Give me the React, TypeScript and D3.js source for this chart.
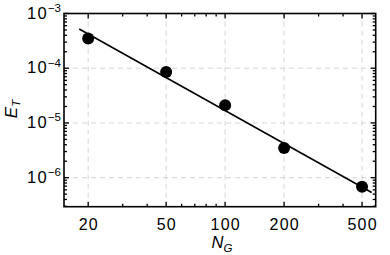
import * as d3 from "d3";
import { useEffect, useRef } from "react";

const nValues = [20, 50, 100, 200, 500];
const errValues = [3.5e-4, 8.5e-5, 2.1e-5, 3.5e-6, 6.8e-7];
const fitN = [18, 560];
const fitErr = [5.2e-4, 5.35e-7];
const xMajor = [20, 50, 100, 200, 500];
const xMinor = [30, 40, 60, 70, 80, 90, 300, 400];
const yMajor = [1e-3, 1e-4, 1e-5, 1e-6];
const yExp = ["−3", "−4", "−5", "−6"];

export default function App() {
  const svgRef = useRef<SVGSVGElement | null>(null);

  useEffect(() => {
    if (!svgRef.current) return;
    const width = 390;
    const height = 255;
    const m = { top: 13.5, right: 14.3, bottom: 48.3, left: 64 };
    const svg = d3.select(svgRef.current);
    svg.selectAll("*").remove();
    svg.attr("width", width).attr("height", height);

    const x = d3.scaleLog().domain([15.05, 587]).range([m.left, width - m.right]);
    const y = d3.scaleLog().domain([2.95e-7, 1e-3]).range([height - m.bottom, m.top]);

    const font = "'Liberation Sans', Arial, sans-serif";
    const x0 = m.left, x1 = width - m.right, y0 = height - m.bottom, y1 = m.top;

    // grid
    const grid = svg.append("g").attr("stroke", "#d0d0d0").attr("stroke-width", 0.9).attr("stroke-dasharray", "5,4");
    grid.selectAll(".gx").data(xMajor).join("line")
      .attr("x1", (d) => x(d)).attr("x2", (d) => x(d)).attr("y1", y0).attr("y2", y1);
    grid.selectAll(".gy").data(yMajor.slice(1)).join("line")
      .attr("y1", (d) => y(d)).attr("y2", (d) => y(d)).attr("x1", x0).attr("x2", x1);

    // y minor
    const yMinor: number[] = [];
    [1e-7, 1e-6, 1e-5, 1e-4].forEach((dec) => {
      for (let k = 2; k <= 9; k++) {
        const v = dec * k;
        if (v > 2.95e-7 && v < 1e-3) yMinor.push(v);
      }
    });

    const ticks = svg.append("g").attr("stroke", "#000").attr("stroke-width", 1.3);
    const majLen = 5, minLen = 3;
    xMajor.forEach((d) => {
      ticks.append("line").attr("x1", x(d)).attr("x2", x(d)).attr("y1", y0).attr("y2", y0 - majLen);
      ticks.append("line").attr("x1", x(d)).attr("x2", x(d)).attr("y1", y1).attr("y2", y1 + majLen);
    });
    xMinor.forEach((d) => {
      ticks.append("line").attr("x1", x(d)).attr("x2", x(d)).attr("y1", y0).attr("y2", y0 - minLen);
      ticks.append("line").attr("x1", x(d)).attr("x2", x(d)).attr("y1", y1).attr("y2", y1 + minLen);
    });
    yMajor.forEach((d) => {
      ticks.append("line").attr("y1", y(d)).attr("y2", y(d)).attr("x1", x0).attr("x2", x0 + majLen);
      ticks.append("line").attr("y1", y(d)).attr("y2", y(d)).attr("x1", x1).attr("x2", x1 - majLen);
    });
    yMinor.forEach((d) => {
      ticks.append("line").attr("y1", y(d)).attr("y2", y(d)).attr("x1", x0).attr("x2", x0 + minLen);
      ticks.append("line").attr("y1", y(d)).attr("y2", y(d)).attr("x1", x1).attr("x2", x1 - minLen);
    });

    // fit line
    const line = d3.line<number>().x((d) => x(fitN[d])).y((d) => y(fitErr[d]));
    svg.append("path").datum([0, 1]).attr("d", line).attr("fill", "none")
      .attr("stroke", "#000").attr("stroke-width", 1.6);

    // points
    svg.selectAll(".pt").data(nValues).join("circle")
      .attr("cx", (d) => x(d)).attr("cy", (d, i) => y(errValues[i]))
      .attr("r", 6).attr("fill", "#000");

    // frame
    svg.append("rect").attr("x", x0).attr("y", y1).attr("width", x1 - x0).attr("height", y0 - y1)
      .attr("fill", "none").attr("stroke", "#000").attr("stroke-width", 1.6);

    // x labels (slightly wide lettering like the original)
    svg.selectAll(".xl").data(xMajor).join("text")
      .attr("x", (d) => x(d) + 0.6).attr("y", 230).attr("text-anchor", "middle")
      .attr("font-family", font).attr("font-size", 16).attr("letter-spacing", 1.2).attr("fill", "#000")
      .text((d) => d);

    // y labels
    yMajor.forEach((d, i) => {
      const t = svg.append("text").attr("x", 61).attr("y", y(d) + 5.2).attr("text-anchor", "end")
        .attr("font-family", font).attr("font-size", 16.5).attr("fill", "#000");
      t.append("tspan").attr("letter-spacing", 1.2).text("10");
      t.append("tspan").attr("dy", -6.8).attr("font-size", 11.5).text(yExp[i]);
    });

    // axis titles
    const xt = svg.append("text").attr("x", 222).attr("y", 248.3).attr("text-anchor", "middle")
      .attr("font-family", font).attr("font-size", 16.5).attr("font-style", "italic").attr("fill", "#000");
    xt.append("tspan").text("N");
    xt.append("tspan").attr("dy", 3.5).attr("font-size", 11.5).text("G");

    const yt = svg.append("text").attr("transform", "translate(16.7,109) rotate(-90)").attr("text-anchor", "middle")
      .attr("font-family", font).attr("font-size", 17).attr("font-style", "italic").attr("fill", "#000");
    yt.append("tspan").text("E");
    yt.append("tspan").attr("dy", 3.5).attr("font-size", 11.5).text("T");
  }, []);

  return (
    <div style={{ position: "absolute", left: 0, top: 0, width: 390, height: 255 }}>
      <svg ref={svgRef} style={{ display: "block", background: "#fff" }} />
    </div>
  );
}
